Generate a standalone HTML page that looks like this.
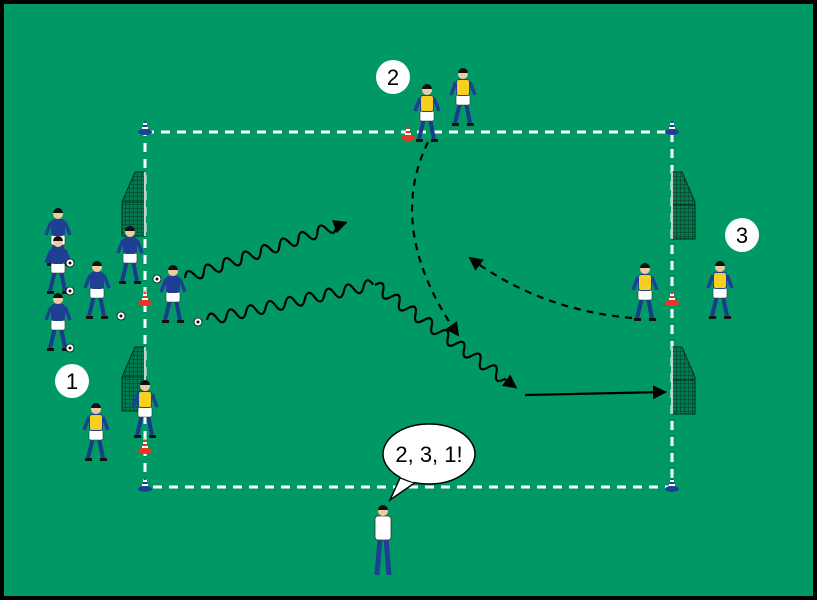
<!DOCTYPE html>
<html><head><meta charset="utf-8"><style>
html,body{margin:0;padding:0;background:#000}
svg{display:block}
</style></head><body>
<svg width="817" height="600" viewBox="0 0 817 600" xmlns="http://www.w3.org/2000/svg">
<defs>
<g id="pb">
 <line x1="-3" y1="-22" x2="-8" y2="-2" stroke="#1a3a8a" stroke-width="4"/>
 <line x1="3" y1="-22" x2="7" y2="-2" stroke="#1a3a8a" stroke-width="4"/>
 <path d="M-11 -2h7v3h-7z M4 -2h7v3h-7z" fill="#111"/>
 <rect x="-7" y="-30" width="14" height="10" rx="2" fill="#fff" stroke="#333" stroke-width=".6"/>
 <rect x="-7" y="-46" width="14" height="17" rx="3" fill="#1f3f94"/>
 <line x1="-7" y1="-43" x2="-12" y2="-30" stroke="#1f3f94" stroke-width="3.5"/>
 <line x1="7" y1="-43" x2="12" y2="-30" stroke="#1f3f94" stroke-width="3.5"/>
 <circle cx="0" cy="-51" r="5" fill="#f2c9a0"/>
 <path d="M-5 -52a5 5 0 0 1 10 0z" fill="#111"/>
</g>
<g id="py">
 <use href="#pb"/>
 <rect x="-6" y="-45" width="12" height="15" rx="2" fill="#f5d020"/>
</g>
<g id="cone"><ellipse cx="0" cy="0" rx="7" ry="3" fill="#e32"/><path d="M-4 -1 L0 -13 L4 -1z" fill="#e32"/><path d="M-3 -5h6v2h-6z M-2 -9h4v2h-4z" fill="#fff"/></g>
<g id="bcone"><ellipse cx="0" cy="0" rx="7" ry="3" fill="#1f3f94"/><path d="M-4 -1 L0 -12 L4 -1z" fill="#1f3f94"/><path d="M-3 -5h6v2h-6z M-2 -9h4v2h-4z" fill="#fff"/></g>
<g id="ball"><circle r="4" fill="#fff" stroke="#111" stroke-width=".8"/><circle r="1.5" fill="#111"/></g>
<pattern id="net" width="4" height="4" patternUnits="userSpaceOnUse"><rect width="4" height="4" fill="#007a50"/><path d="M0 0h4M0 0v4" stroke="#043a20" stroke-width="1"/></pattern>
<g id="goalL"><path d="M0 0 L-10 0 L-23 30 L-23 64 L0 64z" fill="url(#net)" stroke="#02301a" stroke-width="1"/><line x1="-23" y1="30" x2="0" y2="30" stroke="#02301a"/><line x1="0" y1="0" x2="0" y2="64" stroke="#ccc" stroke-width="2"/></g>
<g id="goalR"><path d="M0 0 L10 0 L23 30 L23 67 L0 67z" fill="url(#net)" stroke="#02301a" stroke-width="1"/><line x1="23" y1="33" x2="0" y2="33" stroke="#02301a"/><line x1="0" y1="0" x2="0" y2="67" stroke="#ccc" stroke-width="2"/></g>
<marker id="ah2" markerWidth="14" markerHeight="14" refX="12" refY="7" orient="auto" markerUnits="userSpaceOnUse"><path d="M0 0 L14 7 L0 14z" fill="#000"/></marker>
</defs>
<rect x="0" y="0" width="817" height="600" fill="#000"/>
<rect x="4" y="4" width="809" height="592" fill="#009966"/>
<rect x="145" y="132" width="527" height="355" fill="none" stroke="#fff" stroke-width="3" stroke-dasharray="9,7"/>
<use href="#goalL" x="145" y="172"/>
<use href="#goalL" x="145" y="347"/>
<use href="#goalR" x="672" y="172"/>
<use href="#goalR" x="672" y="347"/>
<use href="#bcone" x="145" y="132"/><use href="#bcone" x="672" y="132"/>
<use href="#bcone" x="145" y="489"/><use href="#bcone" x="672" y="489"/>
<use href="#cone" x="145" y="303"/><use href="#cone" x="145" y="451"/>
<use href="#cone" x="408" y="138"/><use href="#cone" x="672" y="303"/>
<g fill="none" stroke="#000" stroke-width="2.2">
 <g transform="translate(185,278) rotate(-19)"><path d="M0 0 q5 -11 10 0 t10 0 t10 0 t10 0 t10 0 t10 0 t10 0 t10 0 t10 0 t10 0 t10 0 t10 0 t10 0 t10 0 t10 0 t10 0 l10 0" marker-end="url(#ah2)"/></g>
 <g transform="translate(207,320) rotate(-12)"><path d="M0 0 q5 -11 10 0 t10 0 t10 0 t10 0 t10 0 t10 0 t10 0 t10 0 t10 0 t10 0 t10 0 t10 0 t10 0 t10 0 t10 0 t10 0 t10 0"/></g>
 <g transform="translate(375,285) rotate(36)"><path d="M0 0 q5 -11 10 0 t10 0 t10 0 t10 0 t10 0 t10 0 t10 0 t10 0 t10 0 t10 0 t10 0 t10 0 t10 0 t10 0 t10 0 t10 0 l14 0" marker-end="url(#ah2)"/></g>
 <line x1="525" y1="395" x2="665" y2="392" marker-end="url(#ah2)"/>
 <path d="M428 142 Q385 230 458 335" stroke-dasharray="7,6" marker-end="url(#ah2)"/>
 <path d="M632 318 Q540 310 470 258" stroke-dasharray="7,6" marker-end="url(#ah2)"/>
</g>
<use href="#pb" x="58" y="265"/>
<use href="#pb" x="58" y="293"/>
<use href="#pb" x="58" y="350"/>
<use href="#ball" x="70" y="263"/><use href="#ball" x="70" y="291"/><use href="#ball" x="70" y="348"/>
<use href="#pb" x="130" y="283"/>
<use href="#pb" x="97" y="318"/>
<use href="#pb" x="173" y="322"/>
<use href="#ball" x="121" y="316"/><use href="#ball" x="198" y="322"/><use href="#ball" x="157" y="279"/>
<use href="#py" x="145" y="437"/>
<use href="#py" x="96" y="460"/>
<use href="#py" x="427" y="141"/>
<use href="#py" x="463" y="125"/>
<use href="#py" x="645" y="320"/>
<use href="#py" x="720" y="318"/>
<g transform="translate(383,578)">
 <line x1="-3" y1="-40" x2="-6" y2="-3" stroke="#1f3f94" stroke-width="5"/>
 <line x1="3" y1="-40" x2="6" y2="-3" stroke="#1f3f94" stroke-width="5"/>
 <rect x="-8" y="-62" width="16" height="24" rx="3" fill="#fff" stroke="#333" stroke-width=".8"/>
 <circle cx="0" cy="-67" r="5" fill="#f2c9a0"/><path d="M-5 -68a5 5 0 0 1 10 0z" fill="#111"/>
</g>
<path d="M400 478 L390 500 L416 482z" fill="#fff" stroke="#000" stroke-width="1.5"/>
<ellipse cx="429" cy="454" rx="46" ry="30" fill="#fff" stroke="#000" stroke-width="1.5"/>
<path d="M401 476 L414 481" stroke="#fff" stroke-width="3"/>
<text x="429" y="462" font-family="Liberation Sans, sans-serif" font-size="22" text-anchor="middle">2, 3, 1!</text>
<g font-family="Liberation Sans, sans-serif" font-size="22" text-anchor="middle">
 <circle cx="72" cy="381" r="17" fill="#fff"/><text x="72" y="389">1</text>
 <circle cx="393" cy="77" r="17" fill="#fff"/><text x="393" y="85">2</text>
 <circle cx="742" cy="235" r="17" fill="#fff"/><text x="742" y="243">3</text>
</g>
</svg>
</body></html>
